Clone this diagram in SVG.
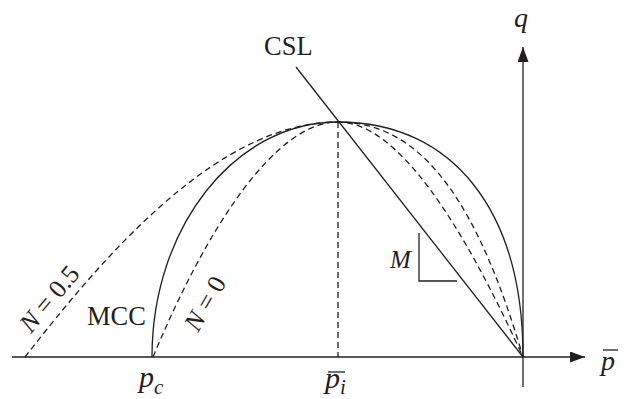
<svg xmlns="http://www.w3.org/2000/svg" width="627" height="399" viewBox="0 0 627 399">
<style>
.ln{fill:none;stroke:#231f20;stroke-width:1.3}
.ds{fill:none;stroke:#231f20;stroke-width:1.3;stroke-dasharray:6 4}
.t{font-family:"Liberation Serif","Times New Roman",serif;fill:#231f20}
.i{font-style:italic}
</style>
<defs>
<marker id="arr" markerWidth="16" markerHeight="12" refX="15" refY="5.5" orient="auto" markerUnits="userSpaceOnUse">
<path d="M0,0 L15,5.5 L0,11 Z" fill="#231f20"/>
</marker>
</defs>
<rect width="627" height="399" fill="#fff"/>
<g id="axes">
<line class="ln" x1="12" y1="357" x2="585" y2="357" marker-end="url(#arr)"/>
<line class="ln" x1="523" y1="387" x2="523" y2="47" marker-end="url(#arr)"/>
</g>
<g id="curves">
<path id="mcc" class="ln" d="M152,357 C152,227 235,122 338,122 C453,122 523,211 523,357"/>
<path id="n05" class="ds" d="M25,357 C105,254.4 218,122 338,122 C423,122 478,204 523,357"/>
<path id="n0" class="ds" d="M153,357 C208,225 276,122 338,122 C398,122 463,225 523,357"/>
<line id="pi-line" class="ds" x1="338" y1="122" x2="338" y2="357"/>
<line id="csl" class="ln" x1="296" y1="67" x2="523" y2="357"/>
<path id="slope" class="ln" d="M419,233 L419,281 L457,281"/>
</g>
<g id="labels">
<text class="t" x="264" y="55" font-size="26.5">CSL</text>
<text class="t" x="87" y="325" font-size="26.5">MCC</text>
<text class="t i" x="390" y="268" font-size="25">M</text>
<text class="t i" x="514" y="27" font-size="28">q</text>
<text class="t" font-size="26" transform="translate(31,334) rotate(-50)"><tspan class="i">N</tspan> = 0.5</text>
<text class="t" font-size="26" transform="translate(198,333) rotate(-60)"><tspan class="i">N</tspan> = 0</text>
<g id="pbar">
<text class="t i" x="601" y="370" font-size="28">p</text>
<line class="ln" x1="603" y1="350" x2="618" y2="350"/>
</g>
<g id="pc">
<text class="t i" x="139" y="387" font-size="30">p<tspan font-size="21" dy="7">c</tspan></text>
</g>
<g id="pi">
<text class="t i" x="325" y="388" font-size="30">p<tspan font-size="21" dy="6">i</tspan></text>
<line class="ln" x1="328" y1="372" x2="345" y2="372"/>
</g>
</g>
</svg>
